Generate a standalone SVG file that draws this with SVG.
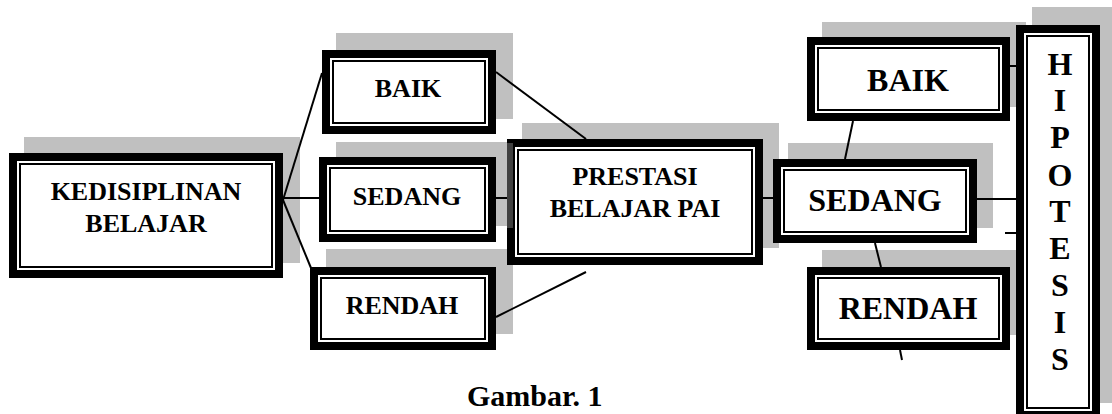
<svg xmlns="http://www.w3.org/2000/svg" width="1112" height="414" viewBox="0 0 1112 414">
<style>
.sh{fill:#c0c0c0}
.ob{fill:#fff;stroke:#000;stroke-width:8}
.ib{fill:none;stroke:#000;stroke-width:2}
.t{font-family:"Liberation Serif","Times New Roman",serif;font-weight:bold;fill:#000;text-anchor:middle}
.s{font-size:26px}
.l{font-size:32px}
.c{stroke:#000;stroke-width:2;fill:none}
</style>
<rect width="1112" height="414" fill="#fff"/>
<g id="kedisiplinan">
<rect class="sh" x="24" y="137" width="276" height="126"/>
<rect class="ob" x="13" y="157" width="266" height="117"/>
<rect class="ib" x="20" y="164" width="252" height="103"/>
<text class="t s" x="146" y="200">KEDISIPLINAN</text>
<text class="t s" x="146" y="232">BELAJAR</text>
</g>
<g id="baik-left">
<rect class="sh" x="336" y="33" width="177" height="86"/>
<rect class="ob" x="326" y="54" width="166" height="76"/>
<rect class="ib" x="333" y="61" width="152" height="62"/>
<text class="t s" x="408" y="97">BAIK</text>
</g>
<g id="sedang-left">
<rect class="sh" x="336" y="142" width="177" height="84"/>
<rect class="ob" x="323" y="161" width="169" height="77"/>
<rect class="ib" x="330" y="168" width="155" height="63"/>
<text class="t s" x="407" y="205">SEDANG</text>
</g>
<g id="rendah-left">
<rect class="sh" x="326" y="249" width="187" height="85"/>
<rect class="ob" x="314" y="271" width="178" height="75"/>
<rect class="ib" x="321" y="278" width="164" height="61"/>
<text class="t s" x="402" y="314">RENDAH</text>
</g>
<g id="prestasi">
<rect class="sh" x="522" y="123" width="257" height="125"/>
<rect class="ob" x="511" y="143" width="248" height="118"/>
<rect x="507" y="143" width="6" height="85" fill="#404040"/>
<rect class="ib" x="518" y="150" width="234" height="104"/>
<text class="t s" x="635" y="185">PRESTASI</text>
<text class="t s" x="635" y="217">BELAJAR PAI</text>
</g>
<g id="baik-right">
<rect class="sh" x="822" y="22" width="204" height="85"/>
<rect class="ob" x="811" y="41" width="195" height="76"/>
<rect class="ib" x="818" y="48" width="181" height="62"/>
<text class="t l" x="908" y="91">BAIK</text>
</g>
<g id="sedang-right">
<rect class="sh" x="788" y="143" width="205" height="85"/>
<rect class="ob" x="777" y="163" width="196" height="76"/>
<rect class="ib" x="784" y="170" width="182" height="62"/>
<text class="t l" x="875" y="211">SEDANG</text>
</g>
<g id="rendah-right">
<rect class="sh" x="822" y="250" width="204" height="85"/>
<rect class="ob" x="811" y="271" width="195" height="75"/>
<rect class="ib" x="818" y="278" width="181" height="61"/>
<text class="t l" x="908" y="319">RENDAH</text>
</g>
<g id="hipotesis">
<rect class="sh" x="1032" y="7" width="84" height="396"/>
<rect class="ob" x="1020" y="29" width="76" height="386"/>
<rect class="ib" x="1027" y="36" width="62" height="372"/>
<text class="t l" x="1060" y="75">H</text>
<text class="t l" x="1060" y="111">I</text>
<text class="t l" x="1060" y="148">P</text>
<text class="t l" x="1060" y="186">O</text>
<text class="t l" x="1060" y="222">T</text>
<text class="t l" x="1060" y="259">E</text>
<text class="t l" x="1060" y="296">S</text>
<text class="t l" x="1060" y="333">I</text>
<text class="t l" x="1060" y="370">S</text>
</g>
<g id="connectors">
<line class="c" x1="283" y1="200" x2="322" y2="73"/>
<line class="c" x1="283" y1="198" x2="319" y2="198"/>
<line class="c" x1="283" y1="200" x2="311" y2="268"/>
<line class="c" x1="496" y1="72" x2="586" y2="139"/>
<line class="c" x1="496" y1="198" x2="507" y2="198"/>
<line class="c" x1="496" y1="317" x2="586" y2="272"/>
<line class="c" x1="763" y1="198" x2="773" y2="198"/>
<line class="c" x1="853" y1="121" x2="845" y2="159"/>
<line class="c" x1="875" y1="243" x2="881" y2="267"/>
<line class="c" x1="900" y1="350" x2="902" y2="360"/>
<line class="c" x1="1010" y1="66" x2="1016" y2="66"/>
<line class="c" x1="977" y1="199" x2="1016" y2="199"/>
<line class="c" x1="1005" y1="233" x2="1016" y2="233"/>
</g>
<text id="caption" class="t" style="font-size:30px;text-anchor:start" x="467" y="406">Gambar. 1</text>
</svg>
